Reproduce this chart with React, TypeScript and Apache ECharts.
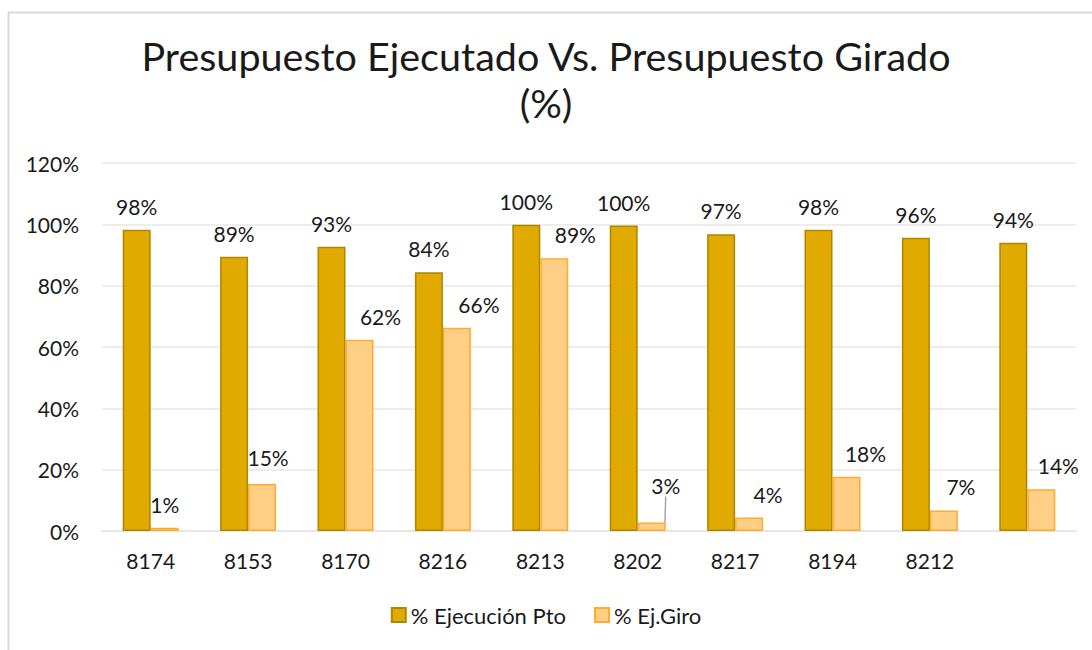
import React, { useEffect, useRef } from "react";
import * as echarts from "echarts";

const categories = ["8174", "8153", "8170", "8216", "8213", "8202", "8217", "8194", "8212", ""];
const ejecucionPto = [98.2, 89.4, 92.7, 84.4, 99.9, 99.6, 96.8, 98.2, 95.6, 94.0];
const ejGiro = [1.1, 15.3, 62.4, 66.3, 88.9, 2.8, 4.4, 17.7, 6.7, 13.6];
const yTicks = [0, 20, 40, 60, 80, 100, 120];
const seriesNames = ["% Ejecución Pto", "% Ej.Giro"];

// label nudges (style only)
const giroLabelDx = [0, 6, 21, 22, 21, 14, 19, 19, 17, 17];
const giroLabelDy = [0, -3, 0, 0, 0, -13, 0, 0, 0, 0];

const FONT = "Lato";
const FS = 21;

export default function App() {
  const ref = useRef<HTMLDivElement>(null);
  useEffect(() => {
    const chart = echarts.init(ref.current!, null, { renderer: "svg" });
    const labelFmt = (p: any) => Math.round(p.value) + "%";
    chart.setOption({
      animation: false,
      backgroundColor: "#ffffff",
      textStyle: { fontFamily: FONT },
      title: {
        text: "Presupuesto Ejecutado Vs. Presupuesto Girado\n(%)",
        left: "center",
        top: 27,
        textStyle: {
          fontFamily: FONT,
          fontSize: 39.5,
          fontWeight: "normal",
          color: "#1a1a1a",
          lineHeight: 47,
        },
      },
      graphic: [
        {
          type: "polyline",
          shape: { points: [[8.5, 660], [8.5, 12.5], [1100, 12.5]] },
          style: { stroke: "#D9D9D9", lineWidth: 2, fill: "none" },
          silent: true,
        },
      ],
      legend: {
        data: seriesNames,
        top: 599,
        left: "center",
        itemWidth: 14,
        itemHeight: 14,
        itemGap: 28,
        icon: "rect",
        textStyle: { fontFamily: FONT, fontSize: 22, color: "#1a1a1a" },
      },
      grid: { left: 102, right: 16, top: 163, bottom: 119, containLabel: false },
      xAxis: {
        type: "category",
        data: categories,
        axisTick: { show: false },
        axisLine: { show: true, lineStyle: { color: "#E6E6E6", width: 2 } },
        axisLabel: { fontFamily: FONT, fontSize: FS, color: "#1a1a1a", margin: 19 },
      },
      yAxis: {
        type: "value",
        min: yTicks[0],
        max: yTicks[yTicks.length - 1],
        interval: 20,
        axisLine: { show: false },
        axisTick: { show: false },
        splitLine: { lineStyle: { color: "#EDEDED", width: 2 } },
        axisLabel: {
          fontFamily: FONT,
          fontSize: FS,
          color: "#1a1a1a",
          margin: 23,
          formatter: (v: number) => v + "%",
        },
      },
      series: [
        {
          name: seriesNames[0],
          type: "bar",
          barWidth: 28,
          barGap: "0%",
          data: ejecucionPto,
          itemStyle: { color: "#E0AA00", borderColor: "#AD8700", borderWidth: 1.5 },
          label: {
            show: true,
            position: "top",
            distance: 13,
            fontFamily: FONT,
            fontSize: FS,
            color: "#1a1a1a",
            formatter: labelFmt,
          },
        },
        {
          name: seriesNames[1],
          type: "bar",
          barWidth: 28,
          barGap: "0%",
          data: ejGiro.map((v, i) =>
            i === 5
              ? { value: v, labelLine: { show: true, lineStyle: { color: "#A6A6A6", width: 1.5 } } }
              : v
          ),
          itemStyle: { color: "#FFCF86", borderColor: "#FFAB2E", borderWidth: 1.5 },
          label: {
            show: true,
            position: "top",
            distance: 13,
            fontFamily: FONT,
            fontSize: FS,
            color: "#1a1a1a",
            formatter: labelFmt,
          },
          labelLayout: (p: any) => ({ dx: giroLabelDx[p.dataIndex], dy: giroLabelDy[p.dataIndex] }),
        },
      ],
    });
    return () => chart.dispose();
  }, []);
  return (
    <div
      ref={ref}
      style={{ position: "fixed", left: 0, top: 0, width: 1092, height: 650 }}
    />
  );
}
